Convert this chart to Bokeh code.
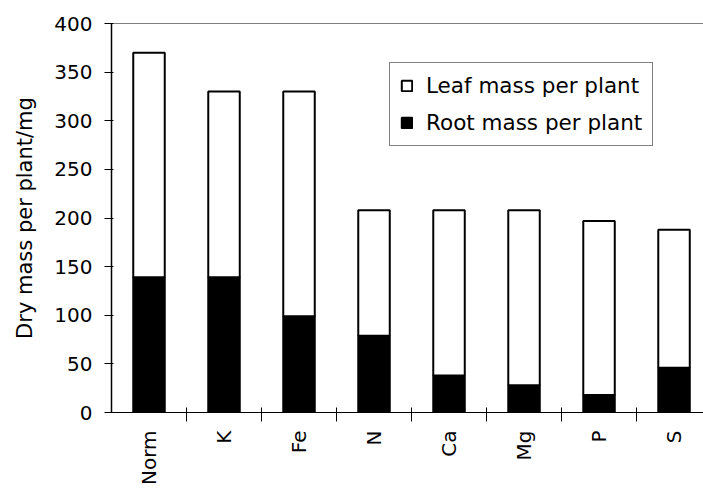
import math
from bokeh.plotting import figure
from bokeh.models import (Range1d, FixedTicker, Span, Legend, LegendItem, ColumnDataSource)
from bokeh.embed import file_html
from bokeh.resources import INLINE

# ---- data ----
nutrients = ["Norm", "K", "Fe", "N", "Ca", "Mg", "P", "S"]
root_mass = [139, 139, 99, 79, 38, 28, 18, 46]
total_mass = [370, 330, 330, 208, 208, 208, 197, 188]
y_ticks = [0, 50, 100, 150, 200, 250, 300, 350, 400]

FONT = "DejaVu Sans"

x_pos = [i + 0.5 for i in range(len(nutrients))]
leaf_mass = [t - r for t, r in zip(total_mass, root_mass)]
src = ColumnDataSource(dict(x=x_pos, root=root_mass, total=total_mass, leaf=leaf_mass))

p = figure(width=703, height=489, output_backend="svg", toolbar_location=None,
           x_range=Range1d(0, 7.893), y_range=Range1d(0, 400),
           min_border_left=111, min_border_right=0, min_border_top=23, min_border_bottom=77)
p.outline_line_color = None
p.xgrid.grid_line_color = None
p.ygrid.grid_line_color = None
p.background_fill_color = "white"
p.border_fill_color = "white"

root_r = p.vbar(x="x", bottom=0, top="root", width=0.42, source=src,
                fill_color="black", line_color="black", line_width=2)
leaf_r = p.vbar(x="x", bottom="root", top="total", width=0.42, source=src,
                fill_color="white", line_color="black", line_width=2)

# top frame line
p.add_layout(Span(location=400, dimension="width", line_color="black", line_width=1))

# y axis
ya = p.yaxis[0]
ya.ticker = FixedTicker(ticks=y_ticks)
ya.axis_label = "Dry mass per plant/mg"
ya.axis_label_text_font = FONT
ya.axis_label_text_font_style = "normal"
ya.axis_label_text_font_size = "21px"
ya.axis_label_text_color = "black"
ya.axis_label_standoff = 14
ya.major_label_text_font = FONT
ya.major_label_text_font_size = "20px"
ya.major_label_text_color = "black"
ya.major_label_standoff = 12
ya.major_tick_in = 2
ya.major_tick_out = 7
ya.minor_tick_line_color = None
ya.axis_line_width = 1.5
ya.axis_line_color = "black"

# x axis: labels at bar centres, tick marks between bars
xa = p.xaxis[0]
xa.ticker = FixedTicker(ticks=x_pos, minor_ticks=list(range(1, len(nutrients))))
xa.major_label_overrides = {x: n for x, n in zip(x_pos, nutrients)}
xa.major_label_orientation = math.pi / 2
xa.major_label_text_font = FONT
xa.major_label_text_font_size = "20px"
xa.major_label_text_color = "black"
xa.major_label_standoff = 9
xa.major_tick_line_color = None
xa.major_tick_in = 0
xa.major_tick_out = 0
xa.minor_tick_line_color = "black"
xa.minor_tick_in = 5
xa.minor_tick_out = 9
xa.axis_line_color = "black"

legend = Legend(items=[LegendItem(label="Leaf mass per plant", renderers=[leaf_r]),
                       LegendItem(label="Root mass per plant", renderers=[root_r])],
                location=(278, 266), margin=0)
legend.label_text_font = FONT
legend.label_text_font_size = "21.5px"
legend.label_text_color = "black"
legend.glyph_width = 13
legend.glyph_height = 13
legend.label_standoff = 13
legend.padding = 10
legend.spacing = 12
legend.border_line_color = "black"
legend.border_line_width = 1
legend.background_fill_color = "white"
legend.background_fill_alpha = 1
p.add_layout(legend)

open("out.html", "w").write(file_html(p, INLINE))
